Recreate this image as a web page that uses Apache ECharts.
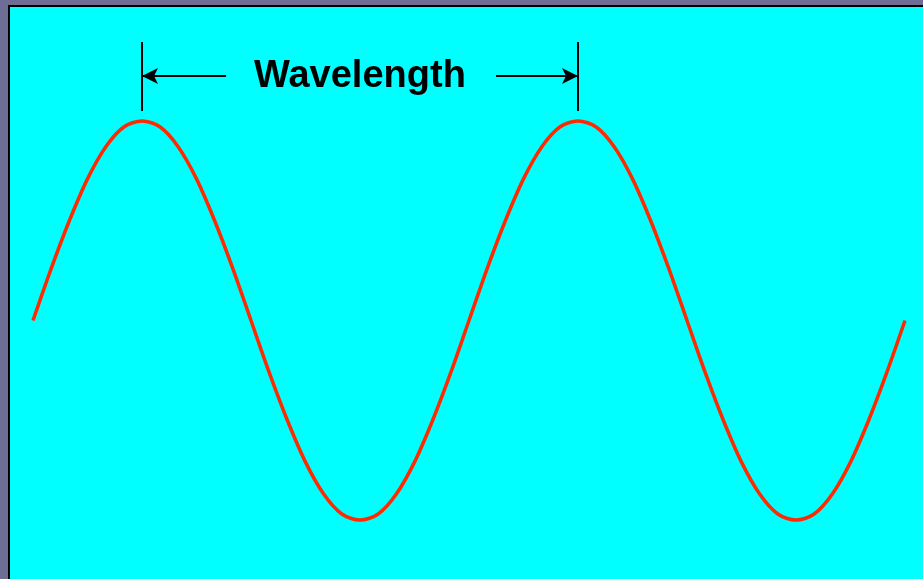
<!DOCTYPE html>
<html>
<head>
<meta charset="utf-8">
<script src="https://cdn.jsdelivr.net/npm/echarts@6/dist/echarts.min.js"></script>
<style>
html,body{margin:0;padding:0;background:#6d6d96;}
#c{width:923px;height:579px;}
</style>
</head>
<body>
<div id="c"></div>
<script>
// phase (degrees) along two wavelengths
const phase = [0,15,30,45,60,75,90,105,120,135,150,165,180,195,210,225,240,255,270,285,300,315,330,345,360,
  375,390,405,420,435,450,465,480,495,510,525,540,555,570,585,600,615,630,645,660,675,690,705,720];
// displacement (peak = 1, trough = -1)
const displacement = [0,0.26,0.5,0.71,0.87,0.97,1,0.97,0.87,0.71,0.5,0.26,0,-0.26,-0.5,-0.71,-0.87,-0.97,-1,-0.97,-0.87,-0.71,-0.5,-0.26,0,
  0.26,0.5,0.71,0.87,0.97,1,0.97,0.87,0.71,0.5,0.26,0,-0.26,-0.5,-0.71,-0.87,-0.97,-1,-0.97,-0.87,-0.71,-0.5,-0.26,0];
// annotation
const labelText = 'Wavelength';
const peaks = [90, 450];
const markerTop = 1.396, markerBottom = 1.05, arrowLevel = 1.226;
const leftArrowTail = 159.4, rightArrowTail = 382.3;

const chart = echarts.init(document.getElementById('c'), null, {renderer:'canvas'});
const seriesData = phase.map((p,i)=>[p, displacement[i]]);
chart.setOption({
  backgroundColor: '#6d6d96',
  animation: false,
  graphic: [{
    type: 'rect', z: 0,
    shape: {x: 9, y: 6, width: 940, height: 600},
    style: {fill: '#00ffff', stroke: '#000000', lineWidth: 2}
  }],
  title: {
    text: labelText, left: 249, top: 53,
    textStyle: {fontFamily: 'Liberation Sans, Arial, sans-serif', fontWeight: 'bold', fontSize: 38, color: '#000'}
  },
  grid: {left: 33, right: 18, top: 21.25, bottom: 59},
  xAxis: {type: 'value', min: 0, max: 720, show: false},
  yAxis: {type: 'value', min: -1, max: 1.5, show: false},
  series: [{
    type: 'line', smooth: 0.3, symbol: 'none', clip: false,
    data: seriesData,
    lineStyle: {color: '#ff2a00', width: 3.5},
    markLine: {
      silent: true, animation: false,
      label: {show: false},
      lineStyle: {color: '#000', width: 2, type: 'solid'},
      symbolSize: [12, 16],
      data: [
        [{coord: [peaks[0], markerTop], symbol: 'none'}, {coord: [peaks[0], markerBottom], symbol: 'none'}],
        [{coord: [peaks[1], markerTop], symbol: 'none'}, {coord: [peaks[1], markerBottom], symbol: 'none'}],
        [{coord: [leftArrowTail, arrowLevel], symbol: 'none'}, {coord: [peaks[0], arrowLevel], symbol: 'arrow'}],
        [{coord: [rightArrowTail, arrowLevel], symbol: 'none'}, {coord: [peaks[1], arrowLevel], symbol: 'arrow'}]
      ]
    }
  }]
});
</script>
</body>
</html>
